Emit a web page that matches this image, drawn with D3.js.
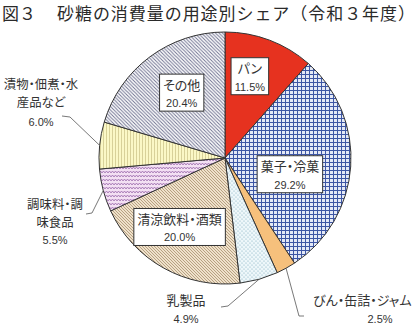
<!DOCTYPE html>
<html lang="ja">
<head>
<meta charset="utf-8">
<script src="https://cdn.jsdelivr.net/npm/d3@7"></script>
<style>
  html, body { margin: 0; padding: 0; background: #fff; }
  svg { display: block; }
  text { font-family: "Noto Sans CJK JP", "Noto Sans", sans-serif; fill: #333; }
  text.lbl { font-feature-settings: "palt" 1; }
  .pct { font-family: "Liberation Sans", Arial, sans-serif; }
</style>
</head>
<body>
<svg id="chart" width="420" height="326"></svg>
<script>
// 砂糖の用途別シェア（令和３年度）
const categories = ["パン", "菓子・冷菓", "びん・缶詰・ジャム", "乳製品", "清涼飲料・酒類", "調味料・調味食品", "漬物・佃煮・水産品など", "その他"];
const shares = [11.5, 29.2, 2.5, 4.9, 20.0, 5.5, 6.0, 20.4];
const labelLines = [["パン"], ["菓子・冷菓"], ["びん・缶詰・ジャム"], ["乳製品"], ["清涼飲料・酒類"], ["調味料・調", "味食品"], ["漬物・佃煮・水", "産品など"], ["その他"]];
const titleNo = "図３";
const titleText = "砂糖の消費量の用途別シェア（令和３年度）";

const W = 420, H = 326;
const cx = 225, cy = 158, R = 126;
const FS = 13;

const svg = d3.select("#chart");
const defs = svg.append("defs");

// fill patterns
function pattern(id, w, h, bg, draw) {
  const p = defs.append("pattern").attr("id", id)
    .attr("patternUnits", "userSpaceOnUse").attr("width", w).attr("height", h);
  p.append("rect").attr("width", w).attr("height", h).attr("fill", bg);
  draw(p);
  return `url(#${id})`;
}
const fills = [
  "#e6321f",
  pattern("p-grid", 4, 4, "#e4e9f6", p => p.append("path").attr("d", "M0 0.5H4M0.5 0V4")
    .attr("stroke", "#3d56a4").attr("stroke-width", 1).attr("fill", "none")),
  "#f6c07c",
  pattern("p-dots", 4, 4, "#eef7fa", p => {
    p.append("circle").attr("cx", 1).attr("cy", 1).attr("r", 0.6).attr("fill", "#7aaabb");
    p.append("circle").attr("cx", 3).attr("cy", 3).attr("r", 0.6).attr("fill", "#7aaabb");
  }),
  pattern("p-beige", 3, 3, "#efe1cb", p => p.append("path").attr("d", "M-1 -1L4 4M-1 2L1 4M2 -1L4 1")
    .attr("stroke", "#a8906e").attr("stroke-width", 0.8).attr("fill", "none")),
  pattern("p-wave", 6, 4, "#f3e0f3", p => p.append("path").attr("d", "M0 3L1.5 1L3 3L4.5 1L6 3")
    .attr("stroke", "#9b6aac").attr("stroke-width", 0.8).attr("fill", "none")),
  pattern("p-vert", 3, 3, "#fbf8c6", p => p.append("path").attr("d", "M1.5 0V3")
    .attr("stroke", "#cfc68e").attr("stroke-width", 0.8).attr("fill", "none")),
  pattern("p-hatch", 3.5, 3.5, "#ffffff", p => p.append("path").attr("d", "M-1 -1L4.5 4.5M-1 2.5L1 4.5M2.5 -1L4.5 1")
    .attr("stroke", "#6f7190").attr("stroke-width", 0.95).attr("fill", "none"))
];

// title
svg.append("text").attr("x", 2).attr("y", 20)
  .attr("font-size", 17).style("fill", "#2a2a2a").text(titleNo);
svg.append("text").attr("x", 57).attr("y", 20)
  .attr("font-size", 17).style("fill", "#2a2a2a")
  .attr("textLength", 358).attr("lengthAdjust", "spacing").text(titleText);

// pie
const pie = d3.pie().sort(null).value(d => d);
const arcs = pie(shares);
const arc = d3.arc().innerRadius(0).outerRadius(R);

const g = svg.append("g").attr("transform", `translate(${cx},${cy})`);
g.selectAll("path.slice").data(arcs).join("path")
  .attr("class", "slice")
  .attr("d", arc)
  .attr("fill", (d, i) => fills[i])
  .attr("stroke", "#333").attr("stroke-width", 1).attr("stroke-linejoin", "round");

const fmt = d3.format(".1f");
const mid = d => (d.startAngle + d.endAngle) / 2;
const polar = (a, r) => [r * Math.sin(a), -r * Math.cos(a)];

// labels inside the pie: boxed, placed along the slice (radius, angle shift in degrees)
const inside = { 0: [85, -3.7], 1: [67, 10.5], 4: [83, 4], 7: [78, 3] };
Object.entries(inside).forEach(([k, [r, da]]) => {
  const i = +k, d = arcs[i];
  const [x, y] = polar(mid(d) + da * Math.PI / 180, r);
  const box = g.append("g").attr("transform", `translate(${x},${y})`);
  const rect = box.append("rect");
  const t1 = box.append("text").attr("class", "lbl").attr("text-anchor", "middle").attr("y", -3.5)
    .attr("font-size", FS).text(labelLines[i][0]);
  const t2 = box.append("text").attr("class", "pct").attr("text-anchor", "middle").attr("y", 14)
    .attr("font-size", 11).text(fmt(shares[i]) + "%");
  const w = Math.max(t1.node().getBBox().width, t2.node().getBBox().width) + 7;
  rect.attr("x", -w / 2).attr("y", -19).attr("width", w).attr("height", 37)
    .attr("fill", "#fff").attr("stroke", "#333").attr("stroke-width", 1);
});

// labels outside the pie with leader lines
const outside = [
  { i: 6, x: 41, ys: [89, 107], py: 126, anchor: "middle", fs: 12.4, leader: [[62, 116], [70, 117]] },
  { i: 5, x: 55, ys: [209, 227], py: 244, anchor: "middle", fs: 12.4, leader: [[86, 214], [92, 213]] },
  { i: 3, x: 186, ys: [305], py: 323, anchor: "middle", fs: FS, leader: [[221, 307], [228, 306]] },
  { i: 2, x: 313, ys: [305], py: 323, anchor: "start", fs: FS, px: 380, leader: [[304, 316], [299, 316]] }
];
outside.forEach(o => {
  const d = arcs[o.i];
  const [ex, ey] = polar(mid(d), R);
  const pts = o.leader.concat([[cx + ex, cy + ey]]);
  svg.append("path").attr("d", d3.line()(pts))
    .attr("fill", "none").attr("stroke", "#555").attr("stroke-width", 0.8);
  o.ys.forEach((y, j) => {
    svg.append("text").attr("class", "lbl").attr("x", o.x).attr("y", y).attr("text-anchor", o.anchor)
      .attr("font-size", o.fs).text(labelLines[o.i][j]);
  });
  svg.append("text").attr("class", "pct").attr("x", o.px || o.x).attr("y", o.py)
    .attr("text-anchor", "middle").attr("font-size", 11).text(fmt(shares[o.i]) + "%");
});
</script>
</body>
</html>
